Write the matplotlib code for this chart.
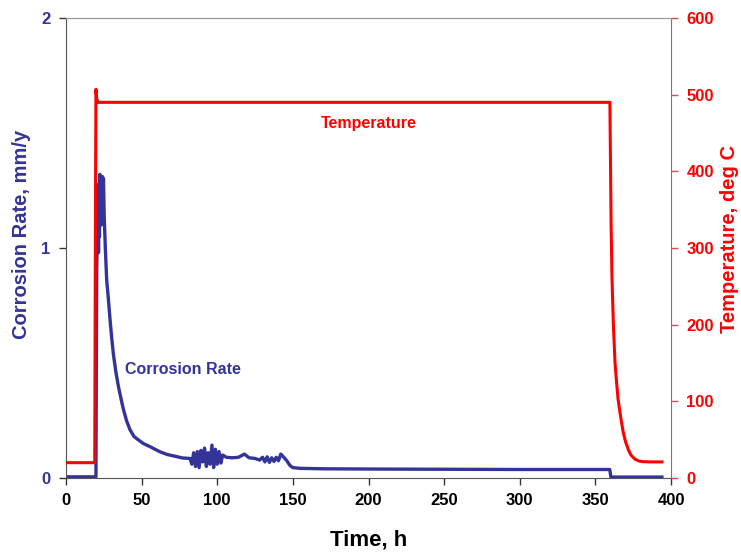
import matplotlib
matplotlib.use('Agg')
import matplotlib.pyplot as plt

plt.rcParams['font.family'] = ['Liberation Sans', 'DejaVu Sans']
plt.rcParams['font.weight'] = 'bold'

BLUE = '#333399'
RED = '#ff0000'

# corrosion rate, mm/y
time_cr = [0, 19.8, 20.3, 20.8, 21.2, 21.5, 21.8, 22.1, 22.4, 22.7, 23.0, 23.3, 23.6,
           23.9, 24.2, 24.5, 24.8, 25.2, 26.0, 26.9, 28.0, 29.1, 30.2, 31.3, 33.0,
           34.6, 36.2, 37.9, 40.0, 42.3, 45.0, 48.0, 51.1, 55.6, 62.1, 67.0, 73.2,
           77.0, 82.0, 83.2, 84.4, 85.6, 86.8, 88.0, 89.2, 90.4, 91.6, 92.8, 94.0,
           95.2, 96.5, 97.6, 98.8, 100.0, 101.2, 102.4, 103.6, 106, 110, 114, 118,
           121, 125, 128, 130, 131.5, 133, 134.5, 136, 137.5, 139, 140.5, 142, 144,
           146, 148, 150, 155, 170, 200, 250, 300, 359.5, 360.3, 394]
corr = [0.005, 0.005, 0.9, 1.1, 1.25, 0.98, 1.28, 1.05, 1.32, 1.18, 1.31, 1.1, 1.3,
        1.22, 1.31, 1.26, 1.3, 1.15, 1.0, 0.86, 0.78, 0.69, 0.61, 0.54, 0.46,
        0.40, 0.35, 0.30, 0.25, 0.21, 0.18, 0.165, 0.15, 0.136, 0.114, 0.102, 0.093,
        0.087, 0.085, 0.06, 0.11, 0.05, 0.115, 0.045, 0.12, 0.07, 0.13, 0.05, 0.11,
        0.06, 0.143, 0.045, 0.125, 0.06, 0.115, 0.065, 0.1, 0.09, 0.088, 0.09, 0.104,
        0.088, 0.085, 0.078, 0.09, 0.07, 0.092, 0.068, 0.088, 0.072, 0.09, 0.075, 0.104,
        0.09, 0.075, 0.055, 0.045, 0.042, 0.040, 0.039, 0.038, 0.037, 0.037, 0.004, 0.004]

# temperature, deg C
time_t = [0, 19.0, 19.4, 19.8, 20.3, 21.2, 25, 100, 200, 300, 359.6, 360.4, 361.0,
          361.9, 363.0, 364.0, 365.0, 366.3, 367.5, 368.5, 370.0, 371.8, 373.5,
          376.2, 379.0, 381.7, 386.0, 390.0, 394.0]
temp = [20, 20, 300, 507, 495, 490, 490, 490, 490, 490, 490, 330, 260,
        200, 150, 125, 103, 85, 70, 59, 47, 37, 30,
        24.5, 22, 21.3, 21, 21, 21]

fig = plt.figure(figsize=(7.41, 5.53), dpi=100)
ax1 = fig.add_axes([66 / 741, 75 / 553, 605 / 741, 460 / 553])
ax2 = ax1.twinx()

ax1.plot(time_cr, corr, color=BLUE, lw=2.4)
ax2.plot(time_t, temp, color=RED, lw=2.2)

ax1.set_xlim(0, 400)
ax1.set_ylim(0, 2)
ax2.set_ylim(0, 600)
ax1.set_xticks(range(0, 401, 50))
ax1.set_yticks([0, 1, 2])
ax2.set_yticks(range(0, 601, 100))

ax1.tick_params(axis='x', direction='out', length=5, width=1, colors='#333333',
                labelsize=12, pad=6, labelcolor='black')
ax1.tick_params(axis='y', direction='out', length=5, width=1, colors='#333333',
                labelsize=12, pad=6, labelcolor=BLUE)
ax2.tick_params(axis='y', direction='out', length=5, width=1, colors='#e04a4a',
                labelsize=12, pad=6, labelcolor=RED)
for lab in ax1.get_xticklabels() + ax1.get_yticklabels() + ax2.get_yticklabels():
    lab.set_fontweight('bold')

for sp in ['left', 'bottom']:
    ax1.spines[sp].set_color('#555555')
ax1.spines['top'].set_color('#999999')
ax2.spines['top'].set_color('#999999')
ax2.spines['left'].set_visible(False)
ax2.spines['bottom'].set_visible(False)
ax2.spines['right'].set_color('#e04a4a')
ax1.spines['right'].set_visible(False)

ax1.set_xlabel('Time, h', fontsize=16, fontweight='bold', color='black')
ax1.set_ylabel('Corrosion Rate, mm/y', fontsize=14.5, fontweight='bold', color=BLUE)
ax2.set_ylabel('Temperature, deg C', fontsize=14.5, fontweight='bold', color=RED)
ax1.xaxis.set_label_coords(0.5, -0.112)
ax1.yaxis.set_label_coords(-0.058, 0.529)
ax2.yaxis.set_label_coords(1.081, 0.52)

ax1.text(77, 0.47, 'Corrosion Rate', color=BLUE, fontsize=11.5, fontweight='bold',
         ha='center', va='center')
ax2.text(200, 462, 'Temperature', color=RED, fontsize=11.5, fontweight='bold',
         ha='center', va='center')

fig.savefig('out.png', dpi=100)
